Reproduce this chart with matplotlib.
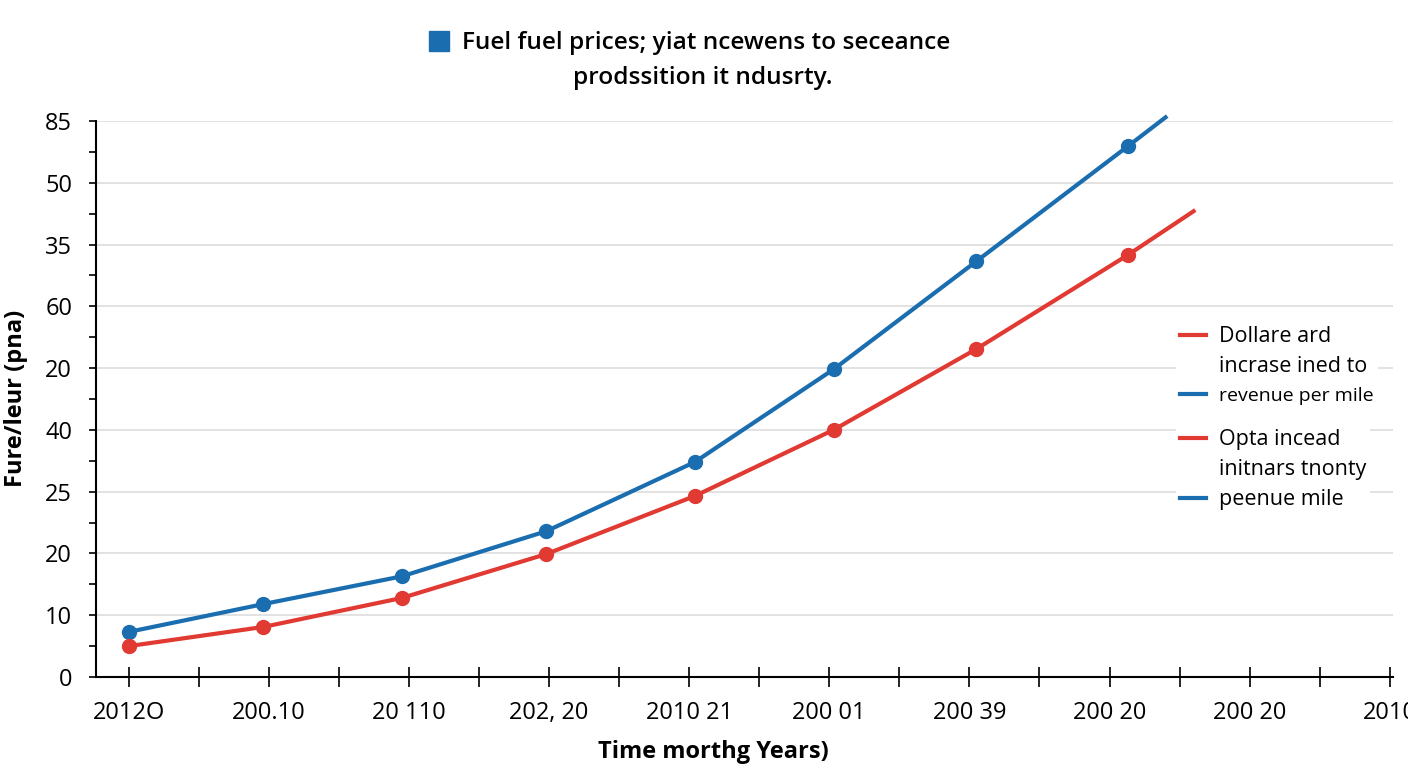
import matplotlib.pyplot as plt
from matplotlib.lines import Line2D
from matplotlib.patches import Rectangle

plt.rcParams['font.family'] = ['Open Sans', 'DejaVu Sans']

# y axis is a plain 0..9 position scale with the (odd) labels from the picture
y_labels = ["0", "10", "20", "25", "40", "20", "60", "35", "50", "85"]
x_labels = ["2012O", "200.10", "20 110", "202, 20", "2010 21", "200 01",
            "200 39", "200 20", "200 20", "2010"]

# marker positions (x in label slots, y in tick slots)
x_pts = [0, 0.96, 1.95, 2.98, 4.04, 5.03, 6.05, 7.13]
blue_vals = [0.73, 1.18, 1.63, 2.36, 3.48, 4.98, 6.73, 8.59]
red_vals = [0.50, 0.81, 1.28, 1.99, 2.93, 4.00, 5.31, 6.83]
# line continues a bit past the last marker
blue_end = (7.40, 9.06)
red_end = (7.60, 7.54)

blue = "#1a6eb0"
red = "#e03a33"

fig = plt.figure(figsize=(14.08, 7.68), dpi=100)
ax = fig.add_axes([0.068, 0.1185, 0.921, 0.7239])

ax.plot(x_pts + [blue_end[0]], blue_vals + [blue_end[1]], color=blue, lw=3, clip_on=False, zorder=3)
ax.plot(x_pts, blue_vals, "o", color=blue, ms=10, clip_on=False, zorder=4)
ax.plot(x_pts + [red_end[0]], red_vals + [red_end[1]], color=red, lw=3, clip_on=False, zorder=3)
ax.plot(x_pts, red_vals, "o", color=red, ms=10, clip_on=False, zorder=4)

ax.set_ylim(0, 9)
ax.set_xlim(-0.236, 9.02)
ax.set_yticks(range(len(y_labels)))
ax.set_yticklabels(y_labels, fontsize=17)
ax.set_yticks([i + 0.5 for i in range(len(y_labels) - 1)], minor=True)
ax.set_xticks(range(len(x_labels)))
ax.set_xticklabels(x_labels, fontsize=17)
ax.set_xticks([i + 0.5 for i in range(len(x_labels) - 1)], minor=True)

ax.tick_params(axis="y", which="both", direction="out", length=5, width=1.2, pad=12)
ax.tick_params(axis="x", which="both", direction="inout", length=14, width=1.2, pad=10)

for s in ["top", "right"]:
    ax.spines[s].set_visible(False)
ax.spines["left"].set_linewidth(1.5)
ax.spines["bottom"].set_linewidth(1.5)

ax.grid(axis="y", color="#dddddd", lw=1.2)
ax.set_axisbelow(True)

ax.set_xlabel("Time morthg Years)", fontsize=17, fontweight="bold")
ax.xaxis.set_label_coords(713 / 1408, 1 - 752 / 768, transform=fig.transFigure)
ax.xaxis.label.set_va("center")
ax.set_ylabel("Fure/leur (pna)", fontsize=17, fontweight="bold")
ax.yaxis.set_label_coords(16 / 1408, 1 - 398 / 768, transform=fig.transFigure)
ax.yaxis.label.set_va("center")

# title with blue square marker
fig.patches.append(Rectangle((429 / 1408, 1 - 51 / 768), 20 / 1408, 20 / 768,
                             transform=fig.transFigure, color=blue))
fig.text(462 / 1408, 1 - 43 / 768, "Fuel fuel prices; yiat ncewens to seceance",
         ha="left", va="center", fontsize=17.6, fontweight="semibold")
fig.text(703 / 1408, 1 - 78 / 768, "prodssition it ndusrty.",
         ha="center", va="center", fontsize=17.6, fontweight="semibold")

blank = Line2D([], [], color="none")
leg_kw = dict(loc="upper left", bbox_transform=fig.transFigure, frameon=True,
              edgecolor="none", fontsize=15.5, handlelength=1.2, handletextpad=0.6,
              labelspacing=0.42, borderpad=0.2, framealpha=1)
leg1 = ax.legend([Line2D([], [], color=red, lw=3), blank, Line2D([], [], color=blue, lw=3)],
                 ["Dollare ard", "incrase ined to", "revenue per mile"],
                 bbox_to_anchor=(1165 / 1408, 1 - 311 / 768), **leg_kw)
leg1.get_texts()[2].set_fontsize(14)
ax.add_artist(leg1)
ax.legend([Line2D([], [], color=red, lw=3), blank, Line2D([], [], color=blue, lw=3)],
          ["Opta incead", "initnars tnonty", "peenue mile"],
          bbox_to_anchor=(1165 / 1408, 1 - 414 / 768), **leg_kw)

fig.savefig("out.png", dpi=100)
